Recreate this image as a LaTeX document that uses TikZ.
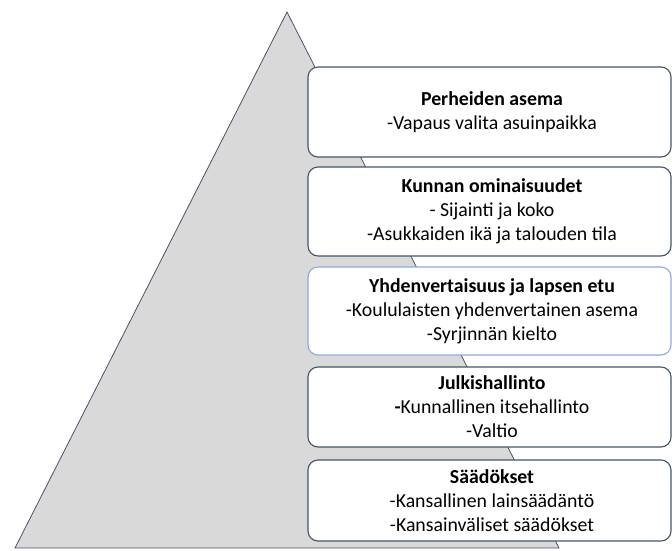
\documentclass[tikz,border=0pt]{standalone}
\usepackage{fontspec}
\setmainfont{Carlito}
\definecolor{edgecol}{HTML}{44546A}
\definecolor{bluecol}{HTML}{8FAADC}
\definecolor{fillgray}{HTML}{D9D9D9}
\begin{document}
\begin{tikzpicture}[x=1pt,y=-1pt,
  layerbox/.style={draw=edgecol,line width=1.1pt,fill=white,rounded corners=10pt},
  layertext/.style={align=center,font=\fontsize{19.8}{24}\selectfont,inner sep=0pt}]
\useasboundingbox (0,0) rectangle (672,550);
\coordinate (apex) at (287,12);
\coordinate (bl) at (15,548);
\coordinate (br) at (559,548);
\draw[edgecol,fill=fillgray,line width=0.8pt] (apex) -- (br) -- (bl) -- cycle;
% boxes
\draw[layerbox] (308,67) rectangle (671,157);
\draw[layerbox] (308,167) rectangle (671,256);
\draw[layerbox,draw=bluecol] (308,267) rectangle (671,355);
\draw[layerbox] (308,367) rectangle (671,447);
\draw[layerbox] (308,460) rectangle (671,541);
\node[layertext] (t1) at (492,112) {\textbf{Perheiden asema}\\-Vapaus valita asuinpaikka};
\node[layertext] (t2) at (492,211.5) {\textbf{Kunnan ominaisuudet}\\- Sijainti ja koko\\-Asukkaiden ikä ja talouden tila};
\node[layertext] (t3) at (492,311) {\textbf{Yhdenvertaisuus ja lapsen etu}\\-Koululaisten yhdenvertainen asema\\-Syrjinnän kielto};
\node[layertext] (t4) at (492,407) {\textbf{Julkishallinto}\\\textbf{-}Kunnallinen itsehallinto\\-Valtio};
\node[layertext] (t5) at (492,500.5) {\textbf{Säädökset}\\-Kansallinen lainsäädäntö\\-Kansainväliset säädökset};
\end{tikzpicture}
\end{document}
